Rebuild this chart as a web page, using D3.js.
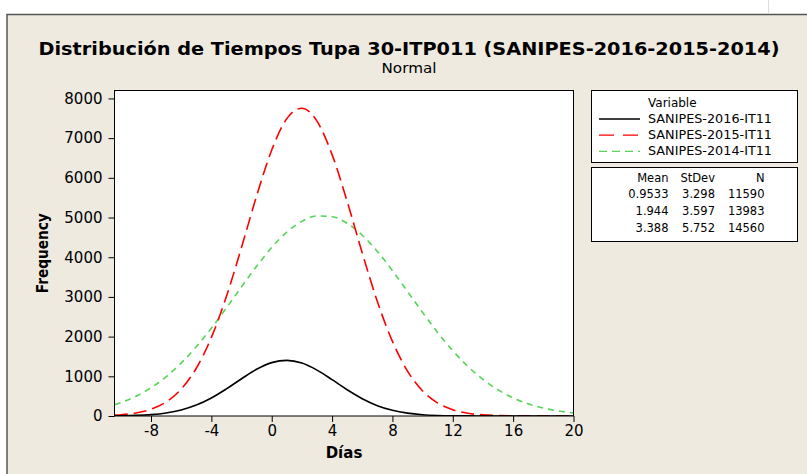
<!DOCTYPE html>
<html><head><meta charset="utf-8">
<script src="https://cdn.jsdelivr.net/npm/d3@7"></script>
<style>body{margin:0;background:#fff}svg{display:block}text{font-family:"DejaVu Sans",Verdana,sans-serif}</style>
</head><body><svg id="c" width="807" height="474"></svg>
<script>
const xValues = [-10.4,-10,-9,-8,-7,-6,-5,-4,-3,-2,-1,0,1,2,3,4,5,6,7,8,9,10,11,12,13,14,15,16,17,18,19,20];
const s2016 = [4,6,15,35,77,152,275,454,684,939,1177,1345,1402,1333,1156,915,660,435,261,143,72,33,14,5,2,1,0,0,0,0,0,0];
const s2015 = [22,31,76,170,352,677,1203,1980,3015,4251,5547,6700,7491,7753,7427,6585,5405,4106,2887,1879,1132,631,326,156,69,28,11,4,1,0,0,0];
const s2014 = [285,336,497,711,988,1333,1744,2213,2725,3256,3774,4245,4632,4904,5038,5021,4855,4554,4145,3661,3137,2608,2103,1646,1250,921,658,456,307,200,127,78];
const seriesNames = ["SANIPES-2016-IT11","SANIPES-2015-IT11","SANIPES-2014-IT11"];
const means = ["0.9533","1.944","3.388"];
const stdevs = ["3.298","3.597","5.752"];
const counts = ["11590","13983","14560"];
const xTicks = [-8,-4,0,4,8,12,16,20];
const yTicks = [0,1000,2000,3000,4000,5000,6000,7000,8000];

const svg = d3.select("#c");
// frame
svg.append("rect").attr("x",7).attr("y",14.5).attr("width",820).attr("height",480)
  .attr("fill","#EEEAE0").attr("stroke","#555").attr("stroke-width",1.5);
svg.append("line").attr("x1",768.5).attr("x2",768.5).attr("y1",0).attr("y2",14).attr("stroke","#ddd");

svg.append("text").attr("x",409).attr("y",55).attr("text-anchor","middle")
  .attr("font-size",18).attr("font-weight","bold").attr("textLength",741).attr("lengthAdjust","spacingAndGlyphs")
  .text("Distribución de Tiempos Tupa 30-ITP011 (SANIPES-2016-2015-2014)");
svg.append("text").attr("x",409).attr("y",73).attr("text-anchor","middle").attr("font-size",14)
  .attr("textLength",55).attr("lengthAdjust","spacingAndGlyphs").text("Normal");

const L=114.5,R=573.5,T=90.5,B=416;
const x = d3.scaleLinear().domain([-10.42,20]).range([L,R]);
const y = d3.scaleLinear().domain([0,8200]).range([B,T]);

svg.append("rect").attr("x",L).attr("y",T).attr("width",R-L).attr("height",B-T).attr("fill","#fff");

svg.append("clipPath").attr("id","clp").append("rect").attr("x",L).attr("y",T).attr("width",R-L).attr("height",B-T);

const line = d3.line().x((d,i)=>x(xValues[i])).y(d=>y(d)).curve(d3.curveMonotoneX);
const g = svg.append("g").attr("clip-path","url(#clp)");
const styles = [
  {data:s2016,color:"#000",dash:null},
  {data:s2015,color:"#FF0000",dash:"13,6"},
  {data:s2014,color:"#55D455",dash:"6,5"}
];
styles.slice().reverse().forEach(s=>{
  g.append("path").attr("d",line(s.data)).attr("fill","none").attr("stroke",s.color)
    .attr("stroke-width",1.6).attr("stroke-dasharray",s.dash);
});

svg.append("rect").attr("x",L).attr("y",T).attr("width",R-L).attr("height",B-T).attr("fill","none").attr("stroke","#000").attr("stroke-width",1);

const xa = svg.append("g").attr("transform",`translate(0,${B})`)
  .call(d3.axisBottom(x).tickValues(xTicks).tickSize(6).tickSizeOuter(0).tickPadding(3).tickFormat(d=>String(d)));
xa.select(".domain").remove();
xa.selectAll("text").attr("font-size",15).attr("fill","#000").attr("font-family","DejaVu Sans");
xa.selectAll("line").attr("stroke","#000");

const ya = svg.append("g").attr("transform",`translate(${L},0)`)
  .call(d3.axisLeft(y).tickValues(yTicks).tickSize(6).tickSizeOuter(0).tickPadding(6).tickFormat(d=>String(d)));
ya.select(".domain").remove();
ya.selectAll("text").attr("font-size",15).attr("fill","#000").attr("font-family","DejaVu Sans");
ya.selectAll("line").attr("stroke","#000");

svg.append("text").attr("x",(L+R)/2).attr("y",458).attr("text-anchor","middle").attr("font-size",15)
  .attr("font-weight","bold").text("Días");
svg.append("text").attr("transform",`translate(48,${(T+B)/2}) rotate(-90)`).attr("text-anchor","middle")
  .attr("font-size",15).attr("font-weight","bold").attr("textLength",80).attr("lengthAdjust","spacingAndGlyphs").text("Frequency");

// legend
svg.append("rect").attr("x",591.5).attr("y",90.5).attr("width",206).attr("height",72).attr("fill","#fff").attr("stroke","#000");
svg.append("text").attr("x",648).attr("y",106.5).attr("font-size",12).text("Variable");
seriesNames.forEach((n,i)=>{
  const yy = 123 + i*16.2;
  svg.append("line").attr("x1",599).attr("x2",640).attr("y1",yy-4).attr("y2",yy-4)
    .attr("stroke",styles[i].color).attr("stroke-width",1.3).attr("stroke-dasharray",i==1?"15,9":i==2?"8,5":null);
  svg.append("text").attr("x",648).attr("y",yy).attr("font-size",12.5)
    .attr("textLength",124).attr("lengthAdjust","spacingAndGlyphs").text(n);
});
svg.append("rect").attr("x",591.5).attr("y",167.5).attr("width",206).attr("height",74).attr("fill","#fff").attr("stroke","#000");
const cols=[668.5,715,764.5];
["Mean","StDev","N"].forEach((h,j)=>svg.append("text").attr("x",cols[j]).attr("y",181.5).attr("text-anchor","end").attr("font-size",11.5).text(h));
means.forEach((m,i)=>{
  const yy=198.3+i*16.7;
  [m,stdevs[i],counts[i]].forEach((v,j)=>svg.append("text").attr("x",cols[j]).attr("y",yy).attr("text-anchor","end").attr("font-size",11.5).text(v));
});
</script></body></html>
